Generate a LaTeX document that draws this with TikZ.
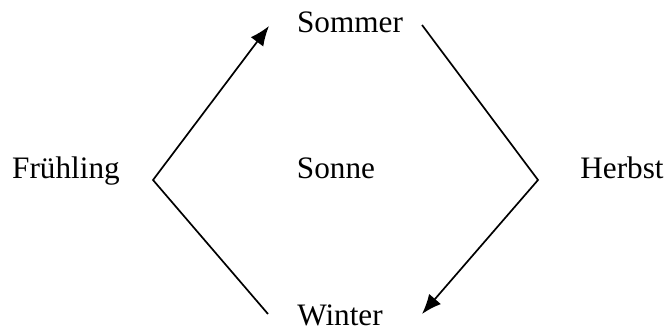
\documentclass[tikz,border=0pt]{standalone}
\usepackage{fontspec}
\setmainfont{Liberation Serif}
\usetikzlibrary{arrows.meta}

\begin{document}
\begin{tikzpicture}[season/.style={anchor=base, inner sep=0, font=\fontsize{12}{14}\selectfont}, >={Latex[length=7.6pt,width=6pt]}, line width=0.65pt, x=0.0135cm, y=-0.0135cm]
				\useasboundingbox (0,0) rectangle (667,332);
				\node[season] (so) at (350,33) {Sommer};
				\node[season] (fr) at (66,179) {Frühling};
				\node[season] (su) at (336,179) {Sonne};
				\node[season] (he) at (622,179) {Herbst};
				\node[season] (wi) at (340,325) {Winter};
				\coordinate (wi1) at (268,314);
				\coordinate (fr1) at (153,180);
				\coordinate (so1) at (269,26);
				\coordinate (so2) at (422,25);
				\coordinate (he1) at (538,180);
				\coordinate (wi2) at (422,314);
				\draw[->] (wi1) -- (fr1) -- (so1);
				\draw[->] (so2) -- (he1) -- (wi2);
			\end{tikzpicture}
\end{document}
